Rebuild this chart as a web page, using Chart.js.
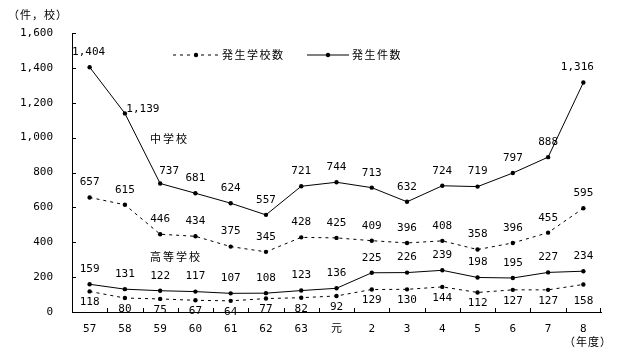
<!DOCTYPE html>
<html>
<head>
<meta charset="utf-8">
<script src="https://cdn.jsdelivr.net/npm/chart.js@4"></script>
<style>
  html, body { margin: 0; padding: 0; background: #fff; }
  #wrap { width: 618px; height: 355px; }
</style>
</head>
<body>
<div id="wrap"><canvas id="chart"></canvas></div>
<script>
// data
const years = ['57', '58', '59', '60', '61', '62', '63', '元', '2', '3', '4', '5', '6', '7', '8'];
const juniorCases = [1404, 1139, 737, 681, 624, 557, 721, 744, 713, 632, 724, 719, 797, 888, 1316];
const juniorSchools = [657, 615, 446, 434, 375, 345, 428, 425, 409, 396, 408, 358, 396, 455, 595];
const highCases = [159, 131, 122, 117, 107, 108, 123, 136, 225, 226, 239, 198, 195, 227, 234];
const highSchools = [118, 80, 75, 67, 64, 77, 82, 92, 129, 130, 144, 112, 127, 127, 158];
const yTicks = [0, 200, 400, 600, 800, 1000, 1200, 1400, 1600];

// label nudges (dx, dy) per series, exceptions by index
const labelShift = {
    juniorCases: { dy: -15, extra: { 0: [-1, 0], 1: [18, 11], 2: [9, 3], 14: [-6, 0] } },
    juniorSchools: { dy: -15, extra: {} },
    highCases: { dy: -15, extra: {} },
    highSchools: { dy: 11, extra: { 14: [0, 6] } }
};

const mono = '"DejaVu Sans Mono", "Noto Sans CJK JP", monospace';
const cjk = '"Noto Sans CJK JP", sans-serif';

var page = {};
page.chart = {
    fmt(v) {
        return Number(v).toLocaleString('en-US');
    },
    series(label, data, key, dashed) {
        return {
            label: label,
            data: data,
            key: key,
            borderColor: '#000',
            backgroundColor: '#000',
            borderWidth: 1,
            borderDash: dashed ? [3, 4] : [],
            pointRadius: 2.2,
            pointHoverRadius: 2.2,
            pointBorderWidth: 0,
            tension: 0
        };
    },
    text(ctx, str, x, y, font, align, spacing) {
        ctx.save();
        ctx.font = font;
        ctx.fillStyle = '#000';
        ctx.textAlign = align || 'left';
        ctx.textBaseline = 'middle';
        ctx.letterSpacing = (spacing || 0) + 'px';
        ctx.fillText(str, x, y);
        ctx.restore();
    },
    legendItem(ctx, x0, x1, y, dashed, label) {
        ctx.save();
        ctx.strokeStyle = '#000';
        ctx.lineWidth = 1;
        ctx.setLineDash(dashed ? [3, 4] : []);
        ctx.beginPath();
        ctx.moveTo(x0, y);
        ctx.lineTo(x1, y);
        ctx.stroke();
        ctx.fillStyle = '#000';
        ctx.beginPath();
        ctx.arc((x0 + x1) / 2, y, 2.2, 0, Math.PI * 2);
        ctx.fill();
        ctx.restore();
        page.chart.text(ctx, label, x1 + 3, y, '11px ' + cjk, 'left', 1.5);
    },
    extras: {
        id: 'extras',
        afterDatasetsDraw(chart) {
            const ctx = chart.ctx;
            const x = chart.scales.x;
            const y = chart.scales.y;
            const area = chart.chartArea;

            // inward tick marks
            ctx.save();
            ctx.strokeStyle = '#000';
            ctx.lineWidth = 1;
            ctx.beginPath();
            yTicks.forEach(v => {
                const py = Math.round(y.getPixelForValue(v)) + 0.5;
                ctx.moveTo(area.left, py);
                ctx.lineTo(area.left + 4, py);
            });
            for (let i = 1; i <= years.length; i++) {
                const px = i < years.length
                    ? Math.round((x.getPixelForValue(i - 1) + x.getPixelForValue(i)) / 2) + 0.5
                    : area.right - 0.5;
                ctx.moveTo(px, area.bottom);
                ctx.lineTo(px, area.bottom - 4);
            }
            ctx.stroke();
            ctx.restore();

            // value labels
            chart.data.datasets.forEach((ds, i) => {
                const meta = chart.getDatasetMeta(i);
                const shift = labelShift[ds.key];
                meta.data.forEach((pt, j) => {
                    const ex = shift.extra[j] || [0, 0];
                    page.chart.text(ctx, page.chart.fmt(ds.data[j]), pt.x + ex[0], pt.y + shift.dy + ex[1],
                        '11px ' + mono, 'center', 0);
                });
            });

            // legend, captions, axis units
            page.chart.legendItem(ctx, 173, 219, 55, true, '発生学校数');
            page.chart.legendItem(ctx, 307, 349, 55, false, '発生件数');
            page.chart.text(ctx, '中学校', 150, 139, '11px ' + cjk, 'left', 2);
            page.chart.text(ctx, '高等学校', 150, 257, '11px ' + cjk, 'left', 2);
            page.chart.text(ctx, '（件，校）', 8, 15, '11px ' + cjk, 'left', 1);
            page.chart.text(ctx, '（年度）', 564, 342, '11px ' + cjk, 'left', 1);
        }
    },
    init() {
        new Chart(document.getElementById('chart'), {
            type: 'line',
            data: {
                labels: years,
                datasets: [
                    this.series('中学校 発生件数', juniorCases, 'juniorCases', false),
                    this.series('中学校 発生学校数', juniorSchools, 'juniorSchools', true),
                    this.series('高等学校 発生件数', highCases, 'highCases', false),
                    this.series('高等学校 発生学校数', highSchools, 'highSchools', true)
                ]
            },
            options: {
                responsive: true,
                maintainAspectRatio: false,
                animation: false,
                devicePixelRatio: 1,
                layout: { padding: { top: 33, right: 17, left: 0, bottom: 0 } },
                plugins: {
                    legend: { display: false },
                    tooltip: { enabled: false }
                },
                scales: {
                    x: {
                        offset: true,
                        grid: { display: false, drawTicks: false },
                        border: { display: true, color: '#000', width: 1 },
                        ticks: { color: '#000', font: { family: mono, size: 11 }, padding: 11, maxRotation: 0, autoSkip: false },
                        afterFit(scale) { scale.height = 43; }
                    },
                    y: {
                        min: 0,
                        max: 1600,
                        grid: { display: false, drawTicks: false },
                        border: { display: true, color: '#000', width: 1 },
                        ticks: {
                            stepSize: 200,
                            color: '#000',
                            font: { family: mono, size: 11 },
                            padding: 19,
                            callback: v => page.chart.fmt(v)
                        },
                        afterFit(scale) { scale.width = 72; }
                    }
                }
            },
            plugins: [this.extras]
        });
    }
};

page.chart.init();
</script>
</body>
</html>
